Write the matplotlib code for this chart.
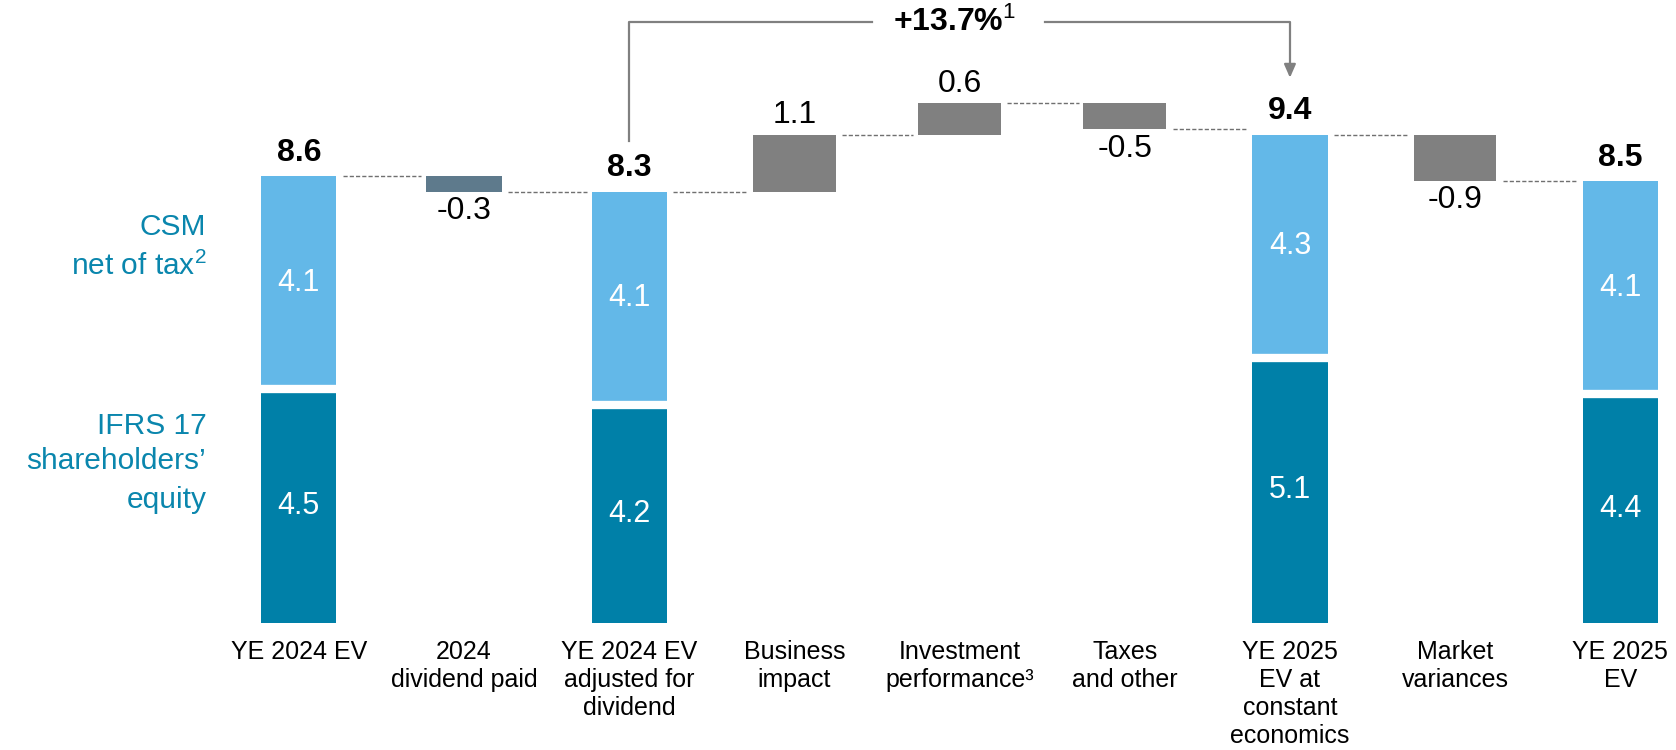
import matplotlib
matplotlib.use("Agg")
import matplotlib.pyplot as plt

plt.rcParams['font.family'] = ['Liberation Sans', 'DejaVu Sans']
plt.rcParams['mathtext.fontset'] = 'custom'
plt.rcParams['mathtext.rm'] = 'Liberation Sans'
plt.rcParams['mathtext.it'] = 'Liberation Sans'
plt.rcParams['mathtext.bf'] = 'Liberation Sans:bold'

# data
categories = ["YE 2024 EV", "2024\ndividend paid", "YE 2024 EV\nadjusted for\ndividend",
              "Business\nimpact", "Investment\nperformance\u00b3", "Taxes\nand other",
              "YE 2025\nEV at\nconstant\neconomics", "Market\nvariances", "YE 2025\nEV"]
kinds = ["total", "delta", "total", "delta", "delta", "delta", "total", "delta", "total"]
equity = [4.5, None, 4.2, None, None, None, 5.1, None, 4.4]
csm = [4.1, None, 4.1, None, None, None, 4.3, None, 4.1]
totals = [8.6, None, 8.3, None, None, None, 9.4, None, 8.5]
deltas = [None, -0.3, None, 1.1, 0.6, -0.5, None, -0.9, None]
growth_label = "+13.7%$^{\\mathrm{1}}$"

c_light = "#63b8e8"
c_dark = "#0080a8"
c_gray = "#808080"
c_div = "#5e7a8c"
c_text = "#0a86ad"

fig = plt.figure(figsize=(16.76, 7.5), dpi=100)
ax = fig.add_axes([0, 0, 1, 1])
ax.set_xlim(-1.809, 8.337)
ax.set_ylim(-2.445, 11.99)
ax.axis("off")

tops = []
bottoms = []
level = 0
for i, k in enumerate(kinds):
    if k == "total":
        ax.bar(i, equity[i], width=0.455, color=c_dark)
        ax.bar(i, csm[i], bottom=equity[i], width=0.455, color=c_light)
        ax.hlines(equity[i], i - 0.25, i + 0.25, color="white", lw=6)
        ax.text(i, equity[i] / 2, f"{equity[i]:.1f}", ha="center", va="center",
                color="white", fontsize=22)
        ax.text(i, equity[i] + csm[i] / 2, f"{csm[i]:.1f}", ha="center", va="center",
                color="white", fontsize=22)
        ax.annotate(f"{totals[i]:.1f}", (i, totals[i]), xytext=(0, 6),
                    textcoords="offset points", ha="center", va="bottom",
                    fontsize=23, fontweight="bold")
        level = totals[i]
        tops.append(level)
        bottoms.append(level)
    else:
        d = deltas[i]
        start = level
        level = level + d
        col = c_div if i == 1 else c_gray
        w = 0.455 if i == 1 else 0.5
        ax.bar(i, d, bottom=start, width=w, color=col)
        tops.append(start)
        bottoms.append(level)
        if d > 0:
            ax.annotate(f"{d:.1f}", (i, level), xytext=(0, 3),
                        textcoords="offset points", ha="center", va="bottom", fontsize=23)
        else:
            ax.annotate(f"{d:.1f}", (i, level), xytext=(0, -3),
                        textcoords="offset points", ha="center", va="top", fontsize=23)

# connectors
for i in range(len(kinds) - 1):
    y = bottoms[i]
    w1 = 0.455 if kinds[i] == "total" or i == 1 else 0.5
    w2 = 0.455 if kinds[i + 1] == "total" or i + 1 == 1 else 0.5
    ax.plot([i + w1 / 2 + 0.04, i + 1 - w2 / 2 - 0.03], [y, y], color="#707070",
            lw=1, ls=(0, (3, 1.5)))

# category labels
for i, lab in enumerate(categories):
    ax.text(i, -0.33, lab, ha="center", va="top", fontsize=18, linespacing=1.2)

# side labels
ax.text(-0.56, 7.63, "CSM", ha="right", va="center", fontsize=21.5, color=c_text)
ax.text(-0.56, 6.86, "net of tax$^{2}$", ha="right", va="center", fontsize=21.5, color=c_text)
ax.text(-0.56, 3.8, "IFRS 17", ha="right", va="center", fontsize=21.5, color=c_text)
ax.text(-0.56, 3.12, "shareholders\u2019", ha="right", va="center", fontsize=21.5, color=c_text)
ax.text(-0.56, 2.36, "equity", ha="right", va="center", fontsize=21.5, color=c_text)

# growth bracket from adjusted EV to constant economics EV
yb = 11.56
x0, x1 = 2, 6
ax.plot([x0, x0, 3.47], [9.27, yb, yb], color=c_gray, lw=1.6)
ax.plot([4.52, x1, x1], [yb, yb, 10.75], color=c_gray, lw=1.6)
ax.annotate("", xy=(x1, 10.44), xytext=(x1, 10.8),
            arrowprops=dict(arrowstyle="-|>,head_length=0.8,head_width=0.35",
                            color=c_gray, lw=1.6))
ax.text(3.97, yb, growth_label, ha="center", va="center",
        fontsize=23, fontweight="bold")

fig.savefig("out.png", dpi=100)
